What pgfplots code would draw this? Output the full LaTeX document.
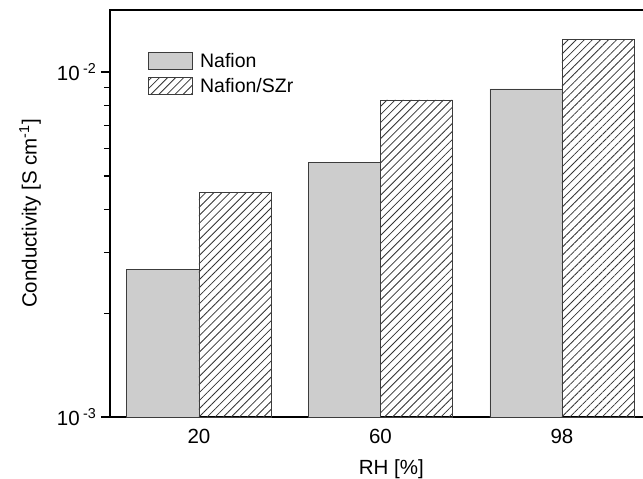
\documentclass[border=0pt]{standalone}
\usepackage{pgfplots}
\pgfplotsset{compat=1.18}
\usepackage{fontspec}
\setmainfont{Liberation Sans}
\usetikzlibrary{patterns.meta,calc}
\definecolor{bargray}{RGB}{205,205,205}
\definecolor{edge}{RGB}{60,60,60}
\pgfplotsset{mybox/.style={legend image code/.code={\draw[##1] (0pt,-8.5pt) rectangle (44pt,8.5pt);}}}
\begin{document}
\begin{tikzpicture}
\begin{axis}[
  scale only axis, width=562pt, height=407pt,
  ymode=log, log origin=infty,
  xmin=-0.49, xmax=2.606, ymin=1e-3, ymax=1.513e-2,
  xtick={0,1,2}, xticklabels={20,60,98},
  xtick pos=bottom, ytick pos=left,
  x tick style={draw=none},
  ytick={1e-3,1e-2}, yticklabels={10\,\textsuperscript{-3},10\,\textsuperscript{-2}},
  minor ytick={2e-3,3e-3,4e-3,5e-3,6e-3,7e-3,8e-3,9e-3},
  tick align=outside,
  major tick length=9pt, minor tick length=6pt,
  axis line style={line width=1.2pt, black},
  y tick style={draw=black, line width=1.3pt},
  minor y tick style={draw=black, line width=1.3pt},
  tick label style={font=\fontsize{20.5}{24}\selectfont},
  yticklabel style={xshift=-1pt},
  every axis y label/.style={at={(rel axis cs:0,0.5)}, xshift=-80pt, rotate=90, anchor=center, font=\fontsize{20.5}{24}\selectfont},
  every axis x label/.style={at={(axis cs:1.06,1e-3)}, yshift=-52pt, anchor=center, font=\fontsize{20.5}{24}\selectfont},
  xlabel={RH [\%]},
  ylabel={Conductivity [S cm\textsuperscript{-1}]},
  legend style={draw=none, fill=none, at={(axis cs:-0.28,1.15e-2)}, anchor=north west,
    font=\fontsize{19.5}{23}\selectfont, inner sep=0pt, row sep=5pt,
    /tikz/every odd column/.append style={column sep=5pt}},
  legend cell align=left,
]
\addplot[ybar, bar width=0.397, bar shift=-0.1985, fill=bargray, draw=edge, line width=0.8pt, mybox]
  coordinates {(0,2.67e-3) (1,5.48e-3) (2,8.93e-3)};
\addlegendentry{Nafion}
\addplot[ybar, bar width=0.397, bar shift=0.1985, draw=edge, line width=0.8pt,
  pattern={Lines[angle=45,distance=5.7pt,line width=0.8pt]}, pattern color=black!80, mybox]
  coordinates {(0,4.49e-3) (1,8.3e-3) (2,1.24e-2)};
\addlegendentry{Nafion/SZr}
\coordinate (SW) at (rel axis cs:0,0);
\end{axis}
\pgfresetboundingbox
\useasboundingbox ($(SW)+(-110pt,-62pt)$) rectangle ($(SW)+(533pt,417pt)$);
\end{tikzpicture}
\end{document}
